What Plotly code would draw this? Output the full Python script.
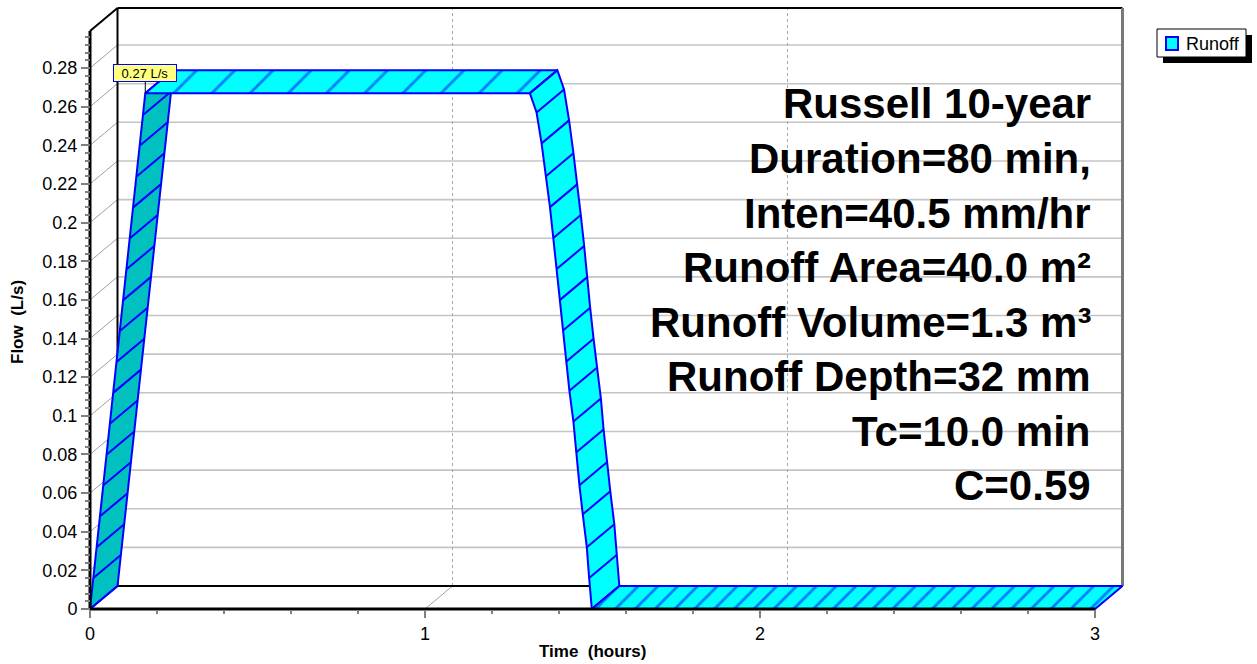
import plotly.graph_objects as go

# ---------------- data ----------------
TIME_HR = [0.00, 0.01, 0.02, 0.03, 0.04, 0.05, 0.06, 0.07, 0.08, 0.09, 0.10, 0.11,
           0.12, 0.13, 0.14, 0.15, 0.16, 0.165,
           1.313, 1.333, 1.348, 1.361, 1.373, 1.383, 1.393, 1.403, 1.411, 1.421,
           1.431, 1.443, 1.451, 1.461, 1.471, 1.483, 1.490, 1.498,
           3.00]
FLOW_LS = [0.000, 0.016, 0.032, 0.048, 0.064, 0.080, 0.096, 0.112, 0.128, 0.144, 0.160, 0.176,
           0.192, 0.208, 0.224, 0.240, 0.256, 0.267,
           0.267, 0.257, 0.241, 0.224, 0.208, 0.192, 0.176, 0.160, 0.144, 0.128,
           0.113, 0.097, 0.081, 0.064, 0.049, 0.032, 0.016, 0.000,
           0.000]
SERIES_NAME = "Runoff"
X_TICKS = [0, 1, 2, 3]
X_TICK_LABELS = ["0", "1", "2", "3"]
Y_TICKS = [0, 0.02, 0.04, 0.06, 0.08, 0.10, 0.12, 0.14, 0.16, 0.18, 0.20, 0.22, 0.24, 0.26, 0.28]
Y_TICK_LABELS = ["0", "0.02", "0.04", "0.06", "0.08", "0.1", "0.12", "0.14", "0.16", "0.18",
                 "0.2", "0.22", "0.24", "0.26", "0.28"]
X_MAX = 3.0
Y_MAX = 0.2992
INFO_LINES = ["Russell 10-year", "Duration=80 min,", "Inten=40.5 mm/hr", "Runoff Area=40.0 m²",
              "Runoff Volume=1.3 m³", "Runoff Depth=32 mm", "Tc=10.0 min", "C=0.59"]
X_TITLE = "Time\u00a0 (hours)"
Y_TITLE = "Flow\u00a0 (L/s)"

# ---------------- layout geometry (pixels) ----------------
W, H = 1257, 664
X0, Y0 = 90, 609            # pixel of front origin
PXH, PXQ = 335.0, 1932.0    # pixels per hour / per L/s
DEPTH_X, DEPTH_Y = 27.5, 23.0
L, R, T, B = 74, 1132, 2, 616
DXH = DEPTH_X / PXH
DYQ = DEPTH_Y / PXQ
FONT = "Liberation Sans, Arial, sans-serif"

def px(xp):
    return (xp - L) / (R - L)

def py(yp):
    return (B - yp) / (B - T)

fig = go.Figure()

def lines(segs, color, width, dash="solid"):
    xs, ys = [], []
    for (xa, ya), (xb, yb) in segs:
        xs += [xa, xb, None]
        ys += [ya, yb, None]
    fig.add_trace(go.Scatter(x=xs, y=ys, mode="lines", hoverinfo="skip", showlegend=False,
                             line=dict(color=color, width=width, dash=dash)))

GRID = "rgb(196,196,196)"
# back wall horizontal gridlines
lines([((DXH, v + DYQ), (X_MAX + DXH, v + DYQ)) for v in Y_TICKS[1:]], GRID, 1.6)
# back wall vertical gridlines
lines([((v + DXH, DYQ), (v + DXH, Y_MAX + DYQ)) for v in X_TICKS[1:-1]], "rgb(170,170,170)", 1, "dot")
# left wall diagonal gridlines
lines([((0, v), (DXH, v + DYQ)) for v in Y_TICKS[1:]], "rgb(160,160,160)", 1)
# floor diagonal gridlines
lines([((v, 0), (v + DXH, DYQ)) for v in X_TICKS[1:-1]], "rgb(160,160,160)", 1)
# back wall frame
lines([((DXH, DYQ), (X_MAX + DXH, DYQ)),
       ((DXH, DYQ), (DXH, Y_MAX + DYQ)),
       ((DXH, Y_MAX + DYQ), (X_MAX + DXH, Y_MAX + DYQ)),
       ((0, Y_MAX), (DXH, Y_MAX + DYQ))], "black", 2)
lines([((X_MAX + DXH, DYQ), (X_MAX + DXH, Y_MAX + DYQ))], "rgb(120,120,120)", 3)

# ---------------- ribbon ----------------
groups = []
for i in range(len(TIME_HR) - 1):
    dq = FLOW_LS[i + 1] - FLOW_LS[i]
    kind = "rise" if dq > 0 else ("fall" if dq < 0 else "flat")
    if groups and groups[-1][0] == kind:
        groups[-1][2] = i + 1
    else:
        groups.append([kind, i, i + 1])

BLUE = "#0000ff"
for kind, i0, i1 in groups:
    ts = TIME_HR[i0:i1 + 1]
    qs = FLOW_LS[i0:i1 + 1]
    xs = ts + [t + DXH for t in reversed(ts)] + [ts[0]]
    ys = qs + [q + DYQ for q in reversed(qs)] + [qs[0]]
    kw = {}
    fc = "rgb(0,192,192)" if kind == "rise" else "#00ffff"
    if kind == "flat":
        size = 27 if qs[0] > 0 else 14
        kw["fillpattern"] = dict(shape="/", fgcolor=BLUE, bgcolor=fc, size=size,
                                 solidity=2.8 / size)
    fig.add_trace(go.Scatter(x=xs, y=ys, mode="lines", fill="toself", fillcolor=fc,
                             line=dict(color=BLUE, width=2), hoverinfo="skip",
                             showlegend=False, name=SERIES_NAME, **kw))
    if kind != "flat":
        lines([((t, q), (t + DXH, q + DYQ)) for t, q in zip(ts, qs)], BLUE, 2)

# front axes lines
lines([((0, 0), (0, Y_MAX)), ((0, 0), (X_MAX, 0))], "black", 3)

# peak callout
ipk = max(range(len(FLOW_LS)), key=lambda i: FLOW_LS[i])
fig.add_annotation(x=TIME_HR[ipk], y=FLOW_LS[ipk], xref="x", yref="y",
                   text=f"{FLOW_LS[ipk]:.2f} L/s", showarrow=True, arrowhead=0,
                   arrowwidth=1, arrowcolor="black", ax=0, ay=-20, standoff=0,
                   bgcolor="#ffff80", bordercolor=BLUE, borderwidth=1, borderpad=1,
                   width=60, height=14, font=dict(family=FONT, size=13, color="black"))

# info text block
y_centers = [104, 158.5, 213, 267.5, 322, 376.5, 431, 485.5]
for txt, yc in zip(INFO_LINES, y_centers):
    fig.add_annotation(x=px(1093), y=py(yc), xref="paper", yref="paper", text=txt,
                       showarrow=False, xanchor="right", yanchor="middle",
                       font=dict(family=FONT, size=42, color="black", weight="bold"))

# axis titles
fig.add_annotation(x=px(592.5), y=py(651), xref="paper", yref="paper", text=X_TITLE,
                   showarrow=False, xanchor="center", yanchor="middle",
                   font=dict(family=FONT, size=17, color="black", weight="bold"))
fig.add_annotation(x=px(17), y=py(322), xref="paper", yref="paper", text=Y_TITLE,
                   showarrow=False, xanchor="center", yanchor="middle", textangle=-90,
                   font=dict(family=FONT, size=17, color="black", weight="bold"))

# legend (box with shadow)
fig.add_shape(type="rect", xref="paper", yref="paper", x0=px(1163), x1=px(1252),
              y0=py(63), y1=py(35), fillcolor="black", line=dict(width=0))
fig.add_shape(type="rect", xref="paper", yref="paper", x0=px(1157), x1=px(1246),
              y0=py(57), y1=py(29), fillcolor="white", line=dict(color="black", width=1))
fig.add_shape(type="rect", xref="paper", yref="paper", x0=px(1166), x1=px(1178),
              y0=py(50), y1=py(37), fillcolor="#00ffff", line=dict(color=BLUE, width=2))
fig.add_annotation(x=px(1184), y=py(43.5), xref="paper", yref="paper", text=SERIES_NAME,
                   showarrow=False, xanchor="left", yanchor="middle",
                   font=dict(family=FONT, size=18, color="black"))

minor_y = [round(i * 0.004, 3) for i in range(0, 75)]
minor_x = [round(i * 0.2, 1) for i in range(0, 16)]

fig.update_layout(
    width=W, height=H,
    margin=dict(l=L, r=W - R, t=T, b=H - B),
    paper_bgcolor="white", plot_bgcolor="white",
    showlegend=False,
    xaxis=dict(range=[(L - X0) / PXH, (R - X0) / PXH], anchor="free", position=(B - Y0) / (B - T),
               showgrid=False, zeroline=False, showline=False,
               tickmode="array", tickvals=X_TICKS, ticktext=X_TICK_LABELS,
               ticks="outside", ticklen=8, tickwidth=2, tickcolor="rgb(128,128,128)",
               tickfont=dict(family=FONT, size=18, color="black"),
               minor=dict(tickvals=minor_x, ticks="outside", ticklen=4, tickwidth=2,
                          tickcolor="rgb(128,128,128)", showgrid=False)),
    yaxis=dict(range=[(Y0 - B) / PXQ, (Y0 - T) / PXQ], anchor="free", position=(X0 - L) / (R - L),
               showgrid=False, zeroline=False, showline=False,
               tickmode="array", tickvals=Y_TICKS, ticktext=Y_TICK_LABELS,
               ticks="outside", ticklen=9, tickwidth=2, tickcolor="rgb(128,128,128)",
               tickfont=dict(family=FONT, size=18, color="black"),
               minor=dict(tickvals=minor_y, ticks="outside", ticklen=5, tickwidth=2,
                          tickcolor="rgb(128,128,128)", showgrid=False)),
)

fig.write_html("out.html", config={"displayModeBar": False},
               post_script="document.body.style.margin='0px';")
